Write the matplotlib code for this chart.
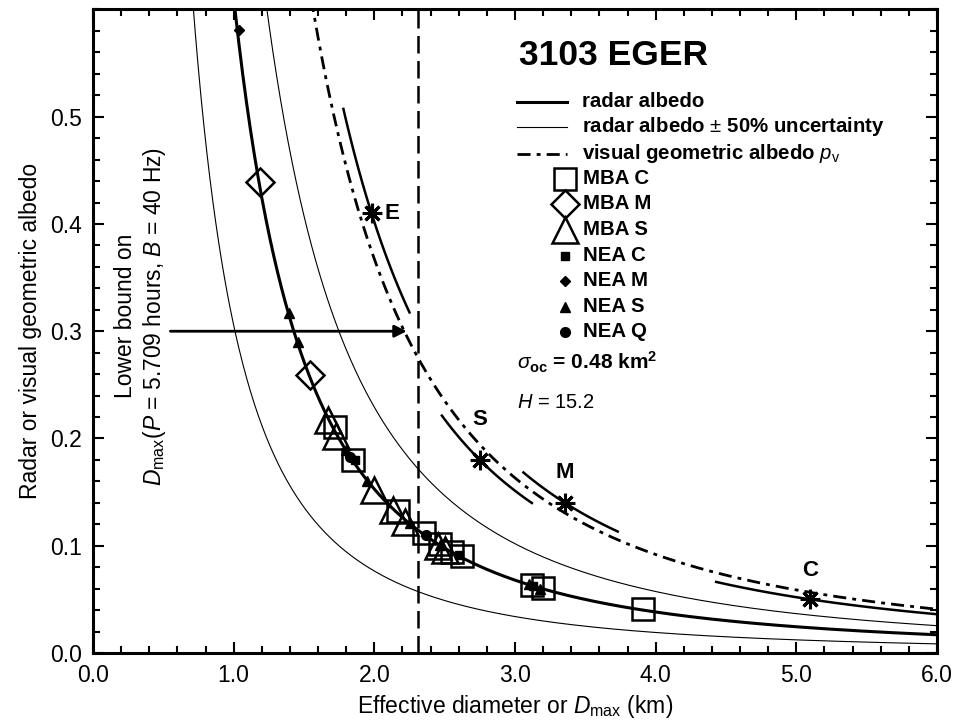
import numpy as np
import matplotlib
matplotlib.use("Agg")
import matplotlib.pyplot as plt
from matplotlib.ticker import MultipleLocator, FormatStrFormatter

plt.rcParams['font.family'] = ['Liberation Sans', 'DejaVu Sans']
plt.rcParams['mathtext.fontset'] = 'custom'
plt.rcParams['mathtext.rm'] = 'Liberation Sans'
plt.rcParams['mathtext.it'] = 'Liberation Sans:italic'
plt.rcParams['mathtext.bf'] = 'Liberation Sans:bold'

# chart parameters printed on the figure
sigma_oc = 0.48        # km^2
H_mag = 15.2
uncert = 0.5
d_max = 2.31           # km, vertical lower-bound line

# asteroid analogue points (effective diameter km, albedo)
mba_c_d = [1.72, 1.85, 2.17, 2.35, 2.47, 2.55, 2.62, 3.12, 3.20, 3.91]
mba_c_a = [0.211, 0.180, 0.132, 0.112, 0.102, 0.094, 0.090, 0.063, 0.061, 0.041]
mba_m_d = [1.19, 1.54]
mba_m_a = [0.439, 0.259]
mba_s_d = [1.67, 1.73, 2.00, 2.13, 2.22, 2.45, 2.50]
mba_s_a = [0.217, 0.202, 0.152, 0.133, 0.122, 0.100, 0.096]
nea_c_d = [1.86, 2.60, 3.13]
nea_c_a = [0.180, 0.091, 0.062]
nea_m_d = [1.04]
nea_m_a = [0.581]
nea_s_d = [1.39, 1.46, 1.80, 1.95, 2.25, 2.47, 3.10, 3.18]
nea_s_a = [0.317, 0.290, 0.189, 0.160, 0.121, 0.101, 0.064, 0.060]
nea_q_d = [1.83, 2.37]
nea_q_a = [0.183, 0.110]

# class visual albedos (stars) and the D-range of their short curves
class_labels = ['E', 'S', 'M', 'C']
class_d = [1.98, 2.75, 3.355, 5.10]
class_pv = [0.41, 0.18, 0.14, 0.05]
class_dlo = [1.78, 2.48, 3.06, 4.43]
class_dhi = [2.25, 3.12, 3.73, 6.00]

fig = plt.figure(figsize=(9.57, 7.24), dpi=100)
ax = fig.add_axes([0.0972, 0.0981, 0.8819, 0.8888])

D = np.linspace(0.5, 6.0, 800)
radar = 4 * sigma_oc / (np.pi * D**2)
pv = (1329.0 / D)**2 * 10**(-0.4 * H_mag)

ax.plot(D, radar, color='k', lw=2.2, zorder=3)
ax.plot(D, radar * (1 + uncert), color='k', lw=0.8, zorder=2)
ax.plot(D, radar * (1 - uncert), color='k', lw=0.8, zorder=2)
ax.plot(D, pv, color='k', lw=2.0, dashes=(4.7, 2.2, 1.4, 2.2), zorder=2)
ax.axvline(d_max, color='k', lw=1.8, dashes=(7, 3), zorder=2)

lab_off = [(15, 0), (0, 29), (0, 22), (0, 21)]
for lab, d0, p0, lo, hi, off in zip(class_labels, class_d, class_pv,
                                     class_dlo, class_dhi, lab_off):
    dd = np.linspace(lo, hi, 100)
    ax.plot(dd, p0 * (d0 / dd)**2, color='k', lw=1.8, zorder=3)
    ax.plot(d0, p0, marker=(8, 2, 0), ms=14, mew=2.2, color='k', zorder=5)
    ax.annotate(lab, (d0, p0), xytext=off, textcoords='offset points',
                ha='center', va='center', fontsize=16, fontweight='bold')

open_kw = dict(ls='none', mfc='none', mec='k', mew=1.8, zorder=4)
fill_kw = dict(ls='none', color='k', zorder=5)
ax.plot(mba_c_d, mba_c_a, marker='s', ms=16, **open_kw)
ax.plot(mba_m_d, mba_m_a, marker='D', ms=14, **open_kw)
ax.plot(mba_s_d, mba_s_a, marker='^', ms=19, **open_kw)
ax.plot(nea_c_d, nea_c_a, marker='s', ms=6, **fill_kw)
ax.plot(nea_m_d, nea_m_a, marker='D', ms=5, **fill_kw)
ax.plot(nea_s_d, nea_s_a, marker='^', ms=7, **fill_kw)
ax.plot(nea_q_d, nea_q_a, marker='o', ms=7, **fill_kw)

# arrow and lower-bound note
ax.annotate('', xy=(2.25, 0.30), xytext=(0.53, 0.30),
            arrowprops=dict(arrowstyle='-|>', lw=2, color='k', mutation_scale=18))
ax.text(0.34, 0.314, 'Lower bound on\n' + r'$D_{\rm max}$($P$ = 5.709 hours, $B$ = 40 Hz)',
        rotation=90, ha='center', va='center', multialignment='center', fontsize=16.5)

# legend, drawn by hand
T = ax.transAxes
ax.text(0.505, 0.929, '3103 EGER', transform=T, fontsize=25.5, fontweight='bold',
        ha='left', va='center')
rows_px = [102, 127, 154, 179, 204, 230, 256, 281, 307, 332]
fy = [(653 - p) / 643.5 for p in rows_px]
line_kw = [dict(lw=2.2), dict(lw=0.8), dict(lw=2.0, dashes=(4.7, 2.2, 1.4, 2.2))]
line_txt = ['radar albedo', r'radar albedo $\pm$ 50% uncertainty',
            r'visual geometric albedo $p_{\rm v}$']
for y, kw, txt in zip(fy[:3], line_kw, line_txt):
    ax.plot([0.502, 0.562], [y, y], color='k', transform=T, clip_on=False, **kw)
    ax.text(0.579, y, txt, transform=T, fontsize=14.7, fontweight='bold',
            ha='left', va='center')
mk_spec = [('s', 16, True), ('D', 14, True), ('^', 19, True),
           ('s', 6, False), ('D', 5, False), ('^', 7, False), ('o', 7, False)]
mk_txt = ['MBA C', 'MBA M', 'MBA S', 'NEA C', 'NEA M', 'NEA S', 'NEA Q']
for y, (m, ms, hollow), txt in zip(fy[3:], mk_spec, mk_txt):
    if hollow:
        ax.plot([0.559], [y], marker=m, ms=ms, transform=T, clip_on=False, **open_kw)
    else:
        ax.plot([0.559], [y], marker=m, ms=ms, transform=T, clip_on=False, **fill_kw)
    ax.text(0.581, y, txt, transform=T, fontsize=14.7, fontweight='bold',
            ha='left', va='center')

ax.text(0.502, 0.451, r'$\sigma_{\bf oc}$' + ' = ' + r'$\bf 0.48\ km^2$', transform=T,
        fontsize=15, fontweight='bold', ha='left', va='center')
ax.text(0.502, 0.390, r'$H$ = 15.2', transform=T, fontsize=14.5, ha='left', va='center')

# axes
ax.set_xlim(0, 6)
ax.set_ylim(0, 0.6)
ax.set_xticks(np.arange(0, 6.01, 1.0))
ax.set_yticks(np.arange(0, 0.51, 0.1))
ax.xaxis.set_minor_locator(MultipleLocator(0.2))
ax.yaxis.set_minor_locator(MultipleLocator(0.02))
ax.xaxis.set_major_formatter(FormatStrFormatter('%.1f'))
ax.yaxis.set_major_formatter(FormatStrFormatter('%.1f'))
ax.tick_params(which='both', direction='in', top=True, right=True, width=1.5,
               labelsize=16.5)
ax.tick_params(which='major', length=8, pad=8)
ax.tick_params(which='minor', length=5)
for s in ax.spines.values():
    s.set_linewidth(2.2)
ax.set_xlabel(r'Effective diameter or $D_{\rm max}$ (km)', fontsize=16.5, labelpad=4)
ax.set_ylabel('Radar or visual geometric albedo', fontsize=16.5, labelpad=6)

fig.savefig('out.png', dpi=100)
